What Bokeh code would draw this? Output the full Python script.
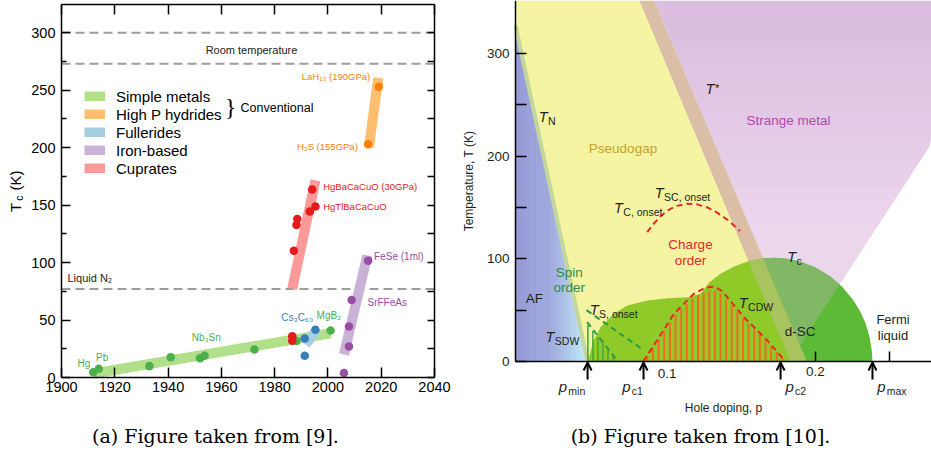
import numpy as np
from bokeh.plotting import figure
from bokeh.layouts import row
from bokeh.models import (Label, Arrow, OpenHead, LinearAxis, FixedTicker,
                          Legend, LegendItem, Range1d)
from bokeh.embed import file_html
from bokeh.resources import INLINE

# ======================= DATA : panel (a) =======================
simple_year = [1911.9, 1914.0, 1933.0, 1941.0, 1952.0, 1953.7, 1972.4, 1988.2, 2001.0]
simple_tc = [4.6, 7.6, 9.9, 17.7, 16.8, 18.9, 24.4, 31.7, 41.0]
hydride_year = [2015.1, 2019.1]
hydride_tc = [203.0, 253.0]
fulleride_year = [1991.3, 1991.3, 1995.3]
fulleride_tc = [34.0, 19.0, 41.5]
iron_year = [2006.0, 2007.9, 2007.9, 2008.9, 2015.1]
iron_tc = [4.0, 27.0, 44.3, 67.5, 101.7]
cuprate_year = [1986.6, 1986.6, 1987.2, 1988.2, 1988.5, 1993.2, 1995.3, 1994.1]
cuprate_tc = [36.0, 32.0, 110.4, 132.8, 138.0, 144.4, 148.7, 163.5]

band_simple_year = [1912.0, 2001.0]
band_simple_tc = [3.5, 38.5]
band_hydride_year = [2015.4, 2018.9]
band_hydride_tc = [200.4, 260.8]
band_fulleride_year = [1991.6, 1995.3]
band_fulleride_tc = [28.7, 40.3]
band_iron_year = [2006.0, 2014.8]
band_iron_tc = [20.0, 106.2]
band_cuprate_year = [1986.6, 1995.3]
band_cuprate_tc = [77.2, 171.5]

ref_temps = [300, 273, 77]
year_ticks = [1900, 1920, 1940, 1960, 1980, 2000, 2020, 2040]
tc_ticks = [0, 50, 100, 150, 200, 250, 300]
tc_minor = [25, 75, 125, 175, 225, 275]
legend_names = ["Simple metals", "High P hydrides", "Fullerides", "Iron-based", "Cuprates"]

# ======================= DATA : panel (b) =======================
tn_p = [0.0, 0.046]            # Neel line T_N
tn_T = [309.0, 0.0]
tstar_lo_p = [0.0818, 0.183]   # T* band, low-doping edge
tstar_lo_T = [348.6, 0.0]
tstar_hi_p = [0.0919, 0.1942]  # T* band, high-doping edge
tstar_hi_T = [348.6, 0.0]
fan_edge_p = [0.1824, 0.2784]  # right edge of strange-metal fan
fan_edge_T = [0.0, 212.3]
sc_p = [0.046, 0.0502, 0.0547, 0.0637, 0.0728, 0.0863, 0.1000, 0.1135, 0.1223, 0.128,
        0.135, 0.145, 0.155, 0.165, 0.172, 0.180, 0.190, 0.200, 0.210, 0.218, 0.225,
        0.230, 0.234, 0.2365, 0.238, 0.2385]
sc_T = [0.0, 20.4, 33.4, 46.4, 54.5, 59.4, 61.6, 62.6, 65.9, 76.6,
        84.6, 92.6, 97.8, 100.5, 101.0, 100.2, 97.1, 91.5, 82.8, 72.8, 60.9,
        49.3, 36.4, 24.2, 11.0, 0.0]
cdw_p = [0.0836, 0.093, 0.1043, 0.1178, 0.125, 0.1313, 0.1365, 0.1403, 0.1516, 0.1674, 0.1797]
cdw_T = [0.0, 20.5, 46.4, 65.9, 71.5, 73.0, 69.0, 62.6, 43.2, 20.5, 0.0]
tc_onset_p = [0.0863, 0.090, 0.095, 0.100, 0.106, 0.113, 0.120, 0.127, 0.134, 0.141, 0.1489]
tc_onset_T = [125.9, 133.0, 141.0, 147.0, 151.5, 153.6, 153.0, 150.0, 144.5, 137.5, 127.0]
ts_onset_p = [0.0453, 0.083]
ts_onset_T = [50.0, 12.0]
sdw_p = [0.0457, 0.066]
sdw_T = [38.3, 1.0]
marker_names = ["min", "c1", "c2", "max"]
marker_p = [0.046, 0.0838, 0.1764, 0.2385]
temp_ticks = [0, 50, 100, 150, 200, 250, 300]
dop_ticks = [0.2, 0.25]

# ======================= styles =======================
FONT = "Liberation Sans"
DARK = "#231f20"
C_PT = {"simple": "#4daf4a", "hydride": "#ff7f00", "fulleride": "#377eb8",
        "iron": "#984ea3", "cuprate": "#e41a1c"}
C_BAND = {"simple": "#b2df8a", "hydride": "#fdbf6f", "fulleride": "#a6cee3",
          "iron": "#cab2d6", "cuprate": "#fb9a99"}


def hexc(rgb):
    return "#%02x%02x%02x" % tuple(int(round(max(0, min(255, c)))) for c in rgb)


def add_text(fig, conv, x, y, text, size, color=DARK, align="center", baseline="middle",
             style="normal", font=FONT, angle=0.0):
    dx, dy = conv(x, y)
    fig.add_layout(Label(x=dx, y=dy, text=text, text_font_size=f"{size}px", text_color=color,
                         text_align=align, text_baseline=baseline, text_font_style=style,
                         text_font=font, angle=angle))


def style_axis(ax, tick_in, label_size):
    ax.axis_line_width = 1.5
    ax.major_tick_line_width = 1.5
    ax.minor_tick_line_width = 1.5
    ax.major_tick_in = tick_in
    ax.major_tick_out = 0
    ax.minor_tick_out = 0
    ax.major_label_text_font = FONT
    ax.major_label_text_font_size = label_size
    ax.major_label_text_color = "black"


# ======================= panel (a) =======================
# the frame fills the whole figure; axes are placed with fixed_location
A_PXY = 373 / 140.0      # px per year
A_PXK = 369 / 321.1      # px per kelvin


def a_xy(x, y):
    return 1900 + (x - 61) / A_PXY, (377 - y) / A_PXK


A_XL, A_YB = a_xy(0, 453)
A_XR, A_YT = a_xy(460, 0)
A_TOP = a_xy(0, 4)[1]
pa = figure(width=460, height=453, x_range=Range1d(A_XL, A_XR), y_range=Range1d(A_YB, A_YT),
            output_backend="svg", toolbar_location=None,
            min_border_left=0, min_border_right=0, min_border_top=0, min_border_bottom=0)
pa.xgrid.visible = False
pa.ygrid.visible = False
pa.outline_line_color = None
pa.background_fill_color = "white"

style_axis(pa.xaxis[0], 10, "14.5px")
pa.xaxis.fixed_location = 0
pa.xaxis.bounds = (year_ticks[0], year_ticks[-1])
pa.xaxis.ticker = FixedTicker(ticks=year_ticks)
pa.xaxis.minor_tick_line_color = None
pa.xaxis.major_label_standoff = 4
style_axis(pa.yaxis[0], 9, "14.5px")
pa.yaxis.fixed_location = year_ticks[0]
pa.yaxis.bounds = (0, A_TOP)
pa.yaxis.ticker = FixedTicker(ticks=tc_ticks, minor_ticks=tc_minor)
pa.yaxis.minor_tick_in = 5
pa.yaxis.major_label_standoff = 6

top_ax = LinearAxis(ticker=FixedTicker(ticks=year_ticks), fixed_location=A_TOP,
                    bounds=(year_ticks[0], year_ticks[-1]), minor_tick_line_color=None,
                    major_label_overrides={t: "" for t in year_ticks})
style_axis(top_ax, 10, "14.5px")
pa.add_layout(top_ax, "above")
all25 = sorted(tc_ticks + tc_minor)
right_ax = LinearAxis(ticker=FixedTicker(ticks=all25), fixed_location=year_ticks[-1],
                      bounds=(0, A_TOP), minor_tick_line_color=None,
                      major_label_overrides={t: "" for t in all25})
style_axis(right_ax, 7, "14.5px")
pa.add_layout(right_ax, "right")

for t in ref_temps:
    pa.line([year_ticks[0], year_ticks[-1]], [t, t], line_color="#9d9d9d",
            line_width=2, line_dash="9 5")

bands = [(band_simple_year, band_simple_tc, "simple"),
         (band_hydride_year, band_hydride_tc, "hydride"),
         (band_fulleride_year, band_fulleride_tc, "fulleride"),
         (band_iron_year, band_iron_tc, "iron"),
         (band_cuprate_year, band_cuprate_tc, "cuprate")]
band_r = []
for bx, by, key in bands:
    band_r.append(pa.line(bx, by, line_width=10, line_color=C_BAND[key], line_cap="butt"))

pts = [(simple_year, simple_tc, "simple"), (fulleride_year, fulleride_tc, "fulleride"),
       (cuprate_year, cuprate_tc, "cuprate"), (iron_year, iron_tc, "iron"),
       (hydride_year, hydride_tc, "hydride")]
for px_, py_, key in pts:
    pa.scatter(px_, py_, size=8.5, fill_color=C_PT[key], line_color=None)

legend = Legend(items=[LegendItem(label=n, renderers=[r]) for n, r in zip(legend_names, band_r)],
                location=(84, 276), glyph_width=21, glyph_height=10, label_height=18,
                label_standoff=11, spacing=0, padding=0, margin=0,
                border_line_color=None, background_fill_alpha=0,
                label_text_font=FONT, label_text_font_size="15px", label_text_color="black")
pa.add_layout(legend)

add_text(pa, a_xy, 230, 106, "}", 24, color="black", font="Liberation Serif")
add_text(pa, a_xy, 240, 107, "Conventional", 12.5, color="black", align="left")
add_text(pa, a_xy, 251, 49, "Room temperature", 11, color="#222222")
add_text(pa, a_xy, 67, 277, "Liquid N\u2082", 11, color="#222222", align="left")
add_text(pa, a_xy, 83.3, 362.5, "Hg", 10, color=C_PT["simple"])
add_text(pa, a_xy, 101.7, 356.5, "Pb", 10, color=C_PT["simple"])
add_text(pa, a_xy, 205.7, 336.5, "Nb\u2083Sn", 10, color=C_PT["simple"])
add_text(pa, a_xy, 296.7, 317.3, "Cs\u2083C\u2086\u2080", 10, color=C_PT["fulleride"])
add_text(pa, a_xy, 328.3, 315, "MgB\u2082", 10, color=C_PT["simple"])
add_text(pa, a_xy, 386.7, 301.7, "SrFFeAs", 10, color=C_PT["iron"])
add_text(pa, a_xy, 398.3, 255.7, "FeSe (1ml)", 10, color=C_PT["iron"])
add_text(pa, a_xy, 322.7, 206, "HgTlBaCaCuO", 9.5, color=C_PT["cuprate"], align="left")
add_text(pa, a_xy, 322.7, 185.7, "HgBaCaCuO (30GPa)", 9.5, color=C_PT["cuprate"], align="left")
add_text(pa, a_xy, 357.3, 145.7, "H\u2083S (155GPa)", 9.5, color=C_PT["hydride"], align="right")
add_text(pa, a_xy, 335.5, 76, "LaH\u2081\u2080 (190GPa)", 9.5, color=C_PT["hydride"])
# rotated axis title  T_c (K)
add_text(pa, a_xy, 14.5, 207, "T", 15, color="black", angle=np.pi / 2)
add_text(pa, a_xy, 18.5, 197.5, "c", 10.5, color="black", angle=np.pi / 2)
add_text(pa, a_xy, 14.5, 180, "(K)", 15, color="black", angle=np.pi / 2)
add_text(pa, a_xy, 215, 435, "(a) Figure taken from [9].", 19, color="black",
         font="DejaVu Serif")

# ======================= panel (b) =======================


def b_xy(x, y):
    return 0.1 + (x - 667) / 1480.0, (361 - y) / 1.027


B_XL, B_YB = b_xy(460, 453)
B_XR, B_YT = b_xy(931, 0)
B_AX = b_xy(515, 0)[0]
pb = figure(width=471, height=453, x_range=Range1d(B_XL, B_XR), y_range=Range1d(B_YB, B_YT),
            output_backend="svg", toolbar_location=None,
            min_border_left=0, min_border_right=0, min_border_top=0, min_border_bottom=0)
pb.xgrid.visible = False
pb.ygrid.visible = False
pb.outline_line_color = None
pb.background_fill_color = "white"


def p_on(lp, lT, T):
    T = np.asarray(T, dtype=float)
    return lp[0] + (T - lT[0]) * (lp[1] - lp[0]) / (lT[1] - lT[0])


def T_on(lp, lT, p):
    p = np.asarray(p, dtype=float)
    return lT[0] + (p - lp[0]) * (lT[1] - lT[0]) / (lp[1] - lp[0])


# --- AF region: horizontal colour gradient
af_stop_p = [B_AX, 0.02, 0.032, 0.042, 0.047]
af_stop_rgb = [(150, 155, 214), (160, 168, 221), (174, 198, 233), (190, 228, 246), (196, 236, 248)]
edges = list(np.arange(B_AX, tn_p[1], 0.001)) + [tn_p[1]]
xs, ys, cols = [], [], []
for a, b in zip(edges[:-1], edges[1:]):
    b2 = min(b + 0.0004, tn_p[1])
    xs.append([a, b2, b2, a])
    ys.append([0, 0, float(T_on(tn_p, tn_T, b2)), float(T_on(tn_p, tn_T, a))])
    m = 0.5 * (a + b)
    cols.append(hexc([np.interp(m, af_stop_p, [c[i] for c in af_stop_rgb]) for i in range(3)]))
pb.patches(xs, ys, fill_color=cols, line_color=None)

# --- strange-metal fan: vertical colour gradient
Ts = np.linspace(0, 120, 12001)
Tx = Ts[np.argmin(np.abs(p_on(tstar_hi_p, tstar_hi_T, Ts) - p_on(fan_edge_p, fan_edge_T, Ts)))]
levels = np.linspace(Tx, B_YT, 41)
fan_top, fan_bot = np.array([219, 190, 224]), np.array([236, 214, 236])
xs, ys, cols = [], [], []
for i, (t0, t1) in enumerate(zip(levels[:-1], levels[1:])):
    t1o = t1 + (1.0 if i < len(levels) - 2 else 0.0)
    xs.append([float(p_on(tstar_hi_p, tstar_hi_T, t0)),
               float(min(p_on(fan_edge_p, fan_edge_T, t0), B_XR)),
               float(min(p_on(fan_edge_p, fan_edge_T, t1o), B_XR)),
               float(p_on(tstar_hi_p, tstar_hi_T, t1o))])
    ys.append([t0, t0, t1o, t1o])
    f = np.clip((0.5 * (t0 + t1) - 130) / 200.0, 0, 1)
    cols.append(hexc(fan_bot * (1 - f) + fan_top * f))
pb.patches(xs, ys, fill_color=cols, line_color=None)

# --- T* band (over white)
pb.patch([float(p_on(tstar_lo_p, tstar_lo_T, B_YT)), float(p_on(tstar_hi_p, tstar_hi_T, B_YT)),
          tstar_hi_p[1], tstar_lo_p[1]], [B_YT, B_YT, 0, 0],
         fill_color="#dabea5", line_color=None)

# --- superconducting dome
pb.patch(sc_p, sc_T, fill_color="#5cba36", line_color=None)
ps = np.linspace(sc_p[0], sc_p[-1], 800)
dome = np.interp(ps, sc_p, sc_T)
lo = np.maximum(T_on(tstar_hi_p, tstar_hi_T, ps), T_on(fan_edge_p, fan_edge_T, ps))
msk = lo < dome
pb.patch(list(ps[msk]) + list(ps[msk][::-1]), list(dome[msk]) + list(lo[msk][::-1]),
         fill_color="#80b865", line_color=None)
lo2 = np.maximum(T_on(tstar_lo_p, tstar_lo_T, ps), 0)
up2 = np.minimum(T_on(tstar_hi_p, tstar_hi_T, ps), dome)
msk2 = lo2 < up2
pb.patch(list(ps[msk2]) + list(ps[msk2][::-1]), list(up2[msk2]) + list(lo2[msk2][::-1]),
         fill_color="#a9c35f", line_color=None)

# --- pseudogap (translucent yellow)
tn_at_ax = float(T_on(tn_p, tn_T, B_AX))
pb.patch([B_AX, B_AX, float(p_on(tstar_lo_p, tstar_lo_T, B_YT)), tstar_lo_p[1], tn_p[1]],
         [tn_at_ax, B_YT, B_YT, 0, 0],
         fill_color="#e3e311", fill_alpha=0.39, line_color=None)

# --- T_N line
pb.line([B_AX, tn_p[1]], [tn_at_ax, 0], line_width=4, line_color="#c3d69c")

# --- hatching
hp = np.arange(sdw_p[0] + 0.0005, sdw_p[1] - 0.002, 0.0034)
pb.segment(x0=hp, y0=0, x1=hp, y1=T_on(sdw_p, sdw_T, hp) * 0.95, line_width=1.6,
           line_color="#4ea53e")
cp = np.arange(cdw_p[0] + 0.0028, cdw_p[-1] - 0.002, 0.0038)
pb.segment(x0=cp, y0=0, x1=cp, y1=np.interp(cp, cdw_p, cdw_T) * 0.95, line_width=2,
           line_color="#f26b22")

# --- dashed lines
pb.line(cdw_p, cdw_T, line_width=2, line_dash="6 4", line_color="#e8262a")
pb.line(tc_onset_p, tc_onset_T, line_width=2, line_dash="6 4", line_color="#e8262a")
pb.line(ts_onset_p, ts_onset_T, line_width=2, line_dash="6 4", line_color="#2b9a48")
pb.line(sdw_p, sdw_T, line_width=2, line_dash="6 4", line_color="#2b9a48")

# --- axes
for ax in (pb.xaxis[0], pb.yaxis[0]):
    style_axis(ax, 10, "13.5px")
    ax.minor_tick_line_color = None
    ax.major_label_text_color = DARK
    ax.axis_label_text_font = FONT
    ax.axis_label_text_font_size = "12px"
    ax.axis_label_text_font_style = "normal"
    ax.axis_label_text_color = DARK
pb.yaxis.fixed_location = B_AX
pb.yaxis.bounds = (0, B_YT)
pb.yaxis.ticker = FixedTicker(ticks=temp_ticks)
pb.yaxis.major_label_overrides = {50: "", 150: "", 250: ""}
pb.yaxis.major_tick_in = 11
pb.yaxis.major_label_standoff = 6
pb.yaxis.axis_label = "Temperature, T (K)"
pb.yaxis.axis_label_standoff = 8
pb.xaxis.fixed_location = 0
pb.xaxis.bounds = (B_AX, B_XR)
pb.xaxis.ticker = FixedTicker(ticks=dop_ticks)
pb.xaxis.major_label_overrides = {0.25: ""}
pb.xaxis.major_label_standoff = 5
pb.xaxis.axis_label = "Hole doping, p"
pb.xaxis.axis_label_standoff = 22

add_text(pb, b_xy, 666.7, 373, "0.1", 13.5)

# --- doping markers
for pm in marker_p:
    pb.add_layout(Arrow(end=OpenHead(size=8, line_width=2, line_color="black"),
                        x_start=pm, y_start=b_xy(0, 379)[1], x_end=pm, y_end=b_xy(0, 362)[1],
                        line_width=2, line_color="black"))
p_label_x = {"min": 558.3, "c1": 621.7, "c2": 785.0, "max": 876.7}
for nm in marker_names:
    x0 = p_label_x[nm]
    add_text(pb, b_xy, x0, 386, "p", 15, align="left", baseline="alphabetic", style="italic")
    add_text(pb, b_xy, x0 + 9.5, 390, nm, 10.5, align="left", baseline="alphabetic")


def t_sub(x, y, sub, dx=9.3, dy=4.0, size=14.5, sub_size=10.5):
    add_text(pb, b_xy, x, y, "T", size, align="left", baseline="alphabetic", style="italic")
    add_text(pb, b_xy, x + dx, y + dy, sub, sub_size, align="left", baseline="alphabetic")


t_sub(538.3, 116, "N")
t_sub(654.3, 192.3, "SC, onset")
t_sub(613.5, 207.5, "C, onset")
t_sub(786.7, 256, "c")
t_sub(738.3, 302.7, "CDW")
t_sub(589.3, 309.3, "S, onset")
t_sub(545, 336.7, "SDW")
add_text(pb, b_xy, 705, 88.3, "T", 14.5, align="left", baseline="alphabetic", style="italic")
add_text(pb, b_xy, 714.5, 87, "*", 11, align="left", baseline="alphabetic")

add_text(pb, b_xy, 788, 120, "Strange metal", 13.5, color="#b446b4")
add_text(pb, b_xy, 622.5, 148, "Pseudogap", 13.5, color="#c8a22c")
add_text(pb, b_xy, 690, 244, "Charge", 13.5, color="#e6262b")
add_text(pb, b_xy, 690, 260, "order", 13.5, color="#e6262b")
add_text(pb, b_xy, 568.8, 272, "Spin", 13.5, color="#2e8a46")
add_text(pb, b_xy, 568.8, 287, "order", 13.5, color="#2e8a46")
add_text(pb, b_xy, 533.8, 297.7, "AF", 13.5)
add_text(pb, b_xy, 799.7, 331, "d-SC", 13.5)
add_text(pb, b_xy, 892.5, 319, "Fermi", 13)
add_text(pb, b_xy, 892.5, 335, "liquid", 13)
add_text(pb, b_xy, 700, 435, "(b) Figure taken from [10].", 19, color="black",
         font="DejaVu Serif")

layout = row(pa, pb)
open("out.html", "w").write(file_html(layout, INLINE))
